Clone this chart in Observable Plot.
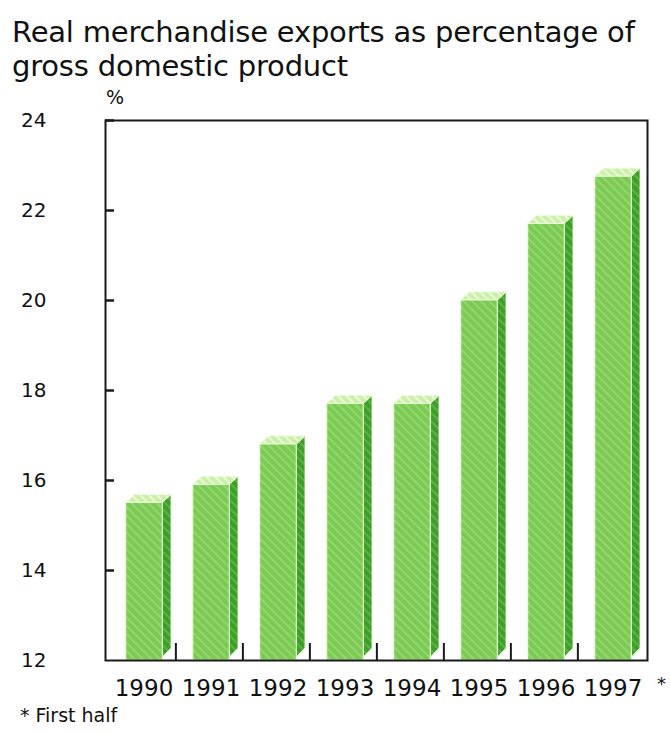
<!DOCTYPE html>
<html><head><meta charset="utf-8">
<script src="https://cdn.jsdelivr.net/npm/d3@7"></script>
<script src="https://cdn.jsdelivr.net/npm/@observablehq/plot@0.6"></script>
<style>
body{margin:0;background:#fff;font-family:"DejaVu Sans",sans-serif;}
#wrap{position:relative;width:670px;height:734px;}
.t{position:absolute;color:#111;white-space:nowrap;}
</style></head><body><div id="wrap">
<div class="t" style="left:12px;top:15px;font-size:29px;line-height:34px;letter-spacing:-0.2px;">Real merchandise exports as percentage of<br>gross domestic product</div>
<div class="t" style="left:106px;top:86px;font-size:19px;">%</div>
<div class="t" style="left:657px;top:673px;font-size:18px">*</div>
<div class="t" style="left:20px;top:704px;font-size:19px">* First half</div>
</div>
<script>
const years = ["1990","1991","1992","1993","1994","1995","1996","1997"];
const values = [15.5, 15.9, 16.8, 17.7, 17.7, 20.0, 21.7, 22.75];
const yTicks = [12, 14, 16, 18, 20, 22, 24];

const W = 670, H = 734, mL = 105, mR = 23, mT = 120, mB = 74;
const step = (W - mL - mR) / years.length;

function bars3d(index, scales) {
  const x = scales.x, y = scales.y;
  const st = x(years[1]) - x(years[0]);
  const g = d3.create("svg:g");
  const defs = g.append("defs");
  function pat(id, base, stripe) {
    const p = defs.append("pattern").attr("id", id).attr("patternUnits", "userSpaceOnUse")
      .attr("width", 6).attr("height", 6).attr("patternTransform", "rotate(-45)");
    p.append("rect").attr("width", 6).attr("height", 6).attr("fill", base);
    p.append("rect").attr("width", 2).attr("height", 6).attr("fill", stripe);
  }
  pat("hFront", "#7dc955", "#91d86a");
  pat("hSide", "#3f9d2c", "#58b53e");
  pat("hTop", "#cdefab", "#e6fbd2");
  const y0 = y(12);
  const dx = st * 0.13, dy = 8;
  years.forEach((yr, i) => {
    const x0 = x(yr);
    const fl = x0 + st * 0.265, fr = x0 + st * 0.81;
    const top = y(values[i]);
    g.append("path")
      .attr("d", `M${fr},${top}L${fr+dx},${top-dy}L${fr+dx},${y0-12}L${fr},${y0-3}Z`)
      .attr("fill", "url(#hSide)").attr("stroke", "#e4fbd0").attr("stroke-width", 0.8);
    g.append("path")
      .attr("d", `M${fl},${top}L${fl+dx},${top-dy}L${fr+dx},${top-dy}L${fr},${top}Z`)
      .attr("fill", "url(#hTop)").attr("stroke", "#eafcd9").attr("stroke-width", 0.8);
    g.append("rect")
      .attr("x", fl).attr("y", top).attr("width", fr - fl).attr("height", y0 - top)
      .attr("fill", "url(#hFront)").attr("stroke", "#e9fcd8").attr("stroke-width", 1);
  });
  return g.node();
}

const chart = Plot.plot({
  width: W, height: H,
  marginLeft: mL, marginRight: mR, marginTop: mT, marginBottom: mB,
  x: {type: "band", domain: years, padding: 0, label: null},
  y: {domain: [12, 24], label: null},
  style: {background: "transparent", fontFamily: "'DejaVu Sans', sans-serif", color: "#111"},
  marks: [
    bars3d,
    Plot.frame({stroke: "#1a1a1a", strokeWidth: 2}),
    Plot.ruleY(yTicks.slice(1), {y: d => d, insetRight: (W - mL - mR) - 9, stroke: "#1a1a1a", strokeWidth: 2.5}),
    Plot.ruleX(years.slice(0, 7), {x: d => d, dx: step / 2, insetTop: (H - mT - mB) - 17, stroke: "#1a1a1a", strokeWidth: 2}),
    Plot.axisY({ticks: yTicks, tickSize: 0, tickPadding: 59, fontSize: 20, label: null}),
    Plot.axisX({tickSize: 0, tickPadding: 19, fontSize: 23, label: null, dx: 2})
  ]
});
chart.style.position = "absolute";
chart.style.left = "0";
chart.style.top = "0";
document.getElementById("wrap").prepend(chart);
</script>
</body></html>
